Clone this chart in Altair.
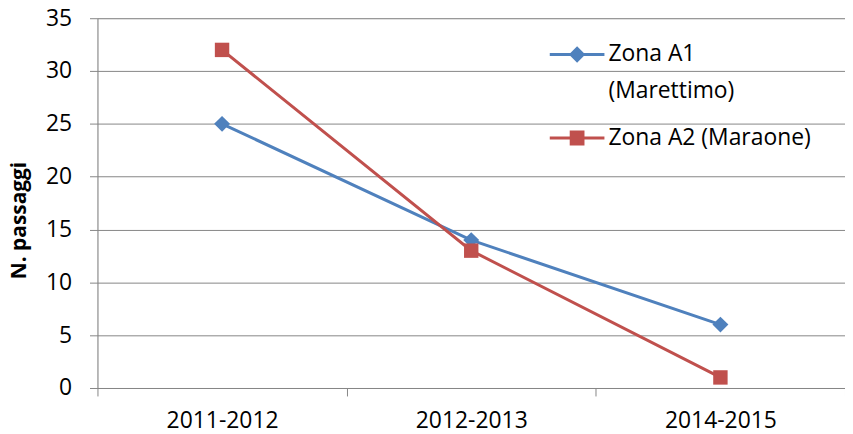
import altair as alt
import pandas as pd

categories = ["2011-2012", "2012-2013", "2014-2015"]
zona_a1 = [25, 14, 6]
zona_a2 = [32, 13, 1]
series_names = ["Zona A1 (Marettimo)", "Zona A2 (Maraone)"]
series_colors = ["#4F81BD", "#C0504D"]
y_ticks = [0, 5, 10, 15, 20, 25, 30, 35]

rows = []
for name, vals in zip(series_names, [zona_a1, zona_a2]):
    for c, v in zip(categories, vals):
        rows.append({"periodo": c, "valore": v, "serie": name})
df = pd.DataFrame(rows)

FONT = "Open Sans"
GRAY = "#868686"

x_enc = alt.X(
    "periodo:N",
    sort=categories,
    scale=alt.Scale(paddingInner=0, paddingOuter=0),
    axis=alt.Axis(
        title=None, labelAngle=0, tickBand="extent", grid=False,
        domainColor=GRAY, tickColor=GRAY, tickSize=8,
        labelFont=FONT, labelFontSize=23, labelColor="#000000",
        labelPadding=14,
    ),
)
y_enc = alt.Y(
    "valore:Q",
    scale=alt.Scale(domain=[0, 35], nice=False),
    axis=alt.Axis(
        values=y_ticks, title="N. passaggi", grid=True, gridColor=GRAY,
        domainColor=GRAY, tickColor=GRAY, tickSize=8,
        labelFont=FONT, labelFontSize=23, labelColor="#000000", labelPadding=18,
        titleFont=FONT, titleFontSize=21, titleFontWeight="bold", titleColor="#000000",
        titleAngle=270, titleX=-78, titleY=203, titleAlign="center", titleBaseline="middle",
    ),
)

color_scale = alt.Scale(domain=series_names, range=series_colors)
legend_paths = [
    "M-1,-0.055L1,-0.055L1,0.055L-1,0.055ZM0,-0.3L0.3,0L0,0.3L-0.3,0Z",
    "M-1,-0.055L1,-0.055L1,0.055L-1,0.055ZM-0.27,-0.27L0.27,-0.27L0.27,0.27L-0.27,0.27Z",
]
shape_scale = alt.Scale(domain=series_names, range=legend_paths)

legend = alt.Legend(
    title=None, orient="none", legendX=455, legendY=9, padding=0,
    labelFont=FONT, labelFontSize=23, labelColor="#000000", labelLimit=0,
    labelOffset=4, symbolSize=3025, symbolStrokeWidth=0, symbolOpacity=1,
    rowPadding=7,
    labelExpr="datum.label == 'Zona A1 (Marettimo)' ? ['Zona A1', '(Marettimo)'] : datum.label",
)

base = alt.Chart(df)

legend_layer = base.mark_point(filled=True, size=0).encode(
    x=x_enc, y=y_enc,
    color=alt.Color("serie:N", scale=color_scale, legend=legend),
    shape=alt.Shape("serie:N", scale=shape_scale, legend=legend),
)
lines = base.mark_line(strokeWidth=3).encode(
    x=x_enc, y=y_enc,
    color=alt.Color("serie:N", scale=color_scale, legend=None),
)
diamonds = base.transform_filter(alt.datum.serie == series_names[0]).mark_point(
    shape="diamond", filled=True, size=256, opacity=1, color=series_colors[0]
).encode(x=x_enc, y=y_enc)
squares = base.transform_filter(alt.datum.serie == series_names[1]).mark_point(
    shape="square", filled=True, size=210, opacity=1, color=series_colors[1]
).encode(x=x_enc, y=y_enc)

chart = alt.layer(legend_layer, lines, diamonds, squares).properties(
    width=752, height=372,
    padding={"left": 90, "top": 9, "right": 0, "bottom": 45},
    autosize=alt.AutoSizeParams(type="none"),
).configure_view(stroke=None).configure(
    background="white",
    style={"guide-label": {"lineHeight": 37}},
)

chart.save("out.html", embed_options={"renderer": "svg", "actions": False})
